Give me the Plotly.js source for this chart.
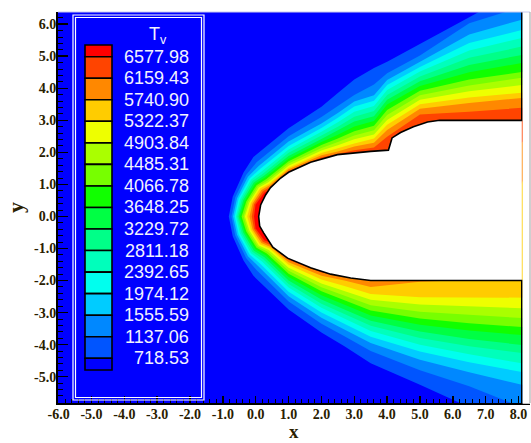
<!DOCTYPE html>
<html>
<head>
<meta charset="utf-8">
<script src="https://cdn.plot.ly/plotly-3.0.1.min.js"></script>
<style>html,body{margin:0;padding:0;background:#fff;}#chart{width:531px;height:443px;}</style>
</head>
<body>
<div id="chart"></div>
<script>
// ---- data ----
const levels = [718.53, 1137.06, 1555.59, 1974.12, 2392.65, 2811.18, 3229.72, 3648.25, 4066.78, 4485.31, 4903.84, 5322.37, 5740.90, 6159.43, 6577.98];
const bandColors = ['#0000FF','#0055FF','#0088FF','#00CCFF','#00FFEE','#00FFBB','#00FF88','#00FF44','#11FF00','#77FF00','#AAFF00','#EEFF00','#FFCC00','#FF8800','#FF4400','#FF0000'];
const xTickVals = [-6,-5,-4,-3,-2,-1,0,1,2,3,4,5,6,7,8];
const xTickText = ['-6.0','-5.0','-4.0','-3.0','-2.0','-1.0','0.0','1.0','2.0','3.0','4.0','5.0','6.0','7.0','8.0'];
const yTickVals = [-5,-4,-3,-2,-1,0,1,2,3,4,5,6];
const yTickText = ['-5.0','-4.0','-3.0','-2.0','-1.0','0.0','1.0','2.0','3.0','4.0','5.0','6.0'];

// body outline (domain edge at x=8.1)
const bodyX = [8.1, 8.1, 5.6, 5.23, 4.80, 4.41, 4.15, 4.04, 3.50, 2.49, 1.67, 1.00, 0.76, 0.45, 0.30, 0.15, 0.09, 0.12, 0.24, 0.52, 0.97, 1.67, 2.28, 2.89, 3.50, 8.1, 8.1];
const bodyY = [6.38, 3.00, 3.00, 2.95, 2.80, 2.62, 2.45, 2.07, 2.03, 1.93, 1.69, 1.38, 1.20, 0.90, 0.67, 0.36, 0.00, -0.30, -0.51, -0.96, -1.30, -1.60, -1.80, -1.92, -2.00, -2.00, -5.82];

// contour-line crossings, one value per level (718.53 ... 6577.98), null = level not reached
// vertical cuts x = const -> y values ; rays from (1,0) -> distance ; row y=0 -> x values
const upX81 = [7.10, 6.54, 6.14, 5.82, 5.57, 5.30, 5.04, 4.79, 4.51, 4.33, 4.10, 3.86, 3.70, 3.39, null];
const upX65 = [6.22, 6.03, 5.68, 5.41, 5.18, 4.95, 4.73, 4.50, 4.27, 4.09, 3.91, 3.71, 3.54, 3.27, null];
const upX50 = [5.38, 5.02, 4.82, 4.66, 4.52, 4.37, 4.22, 4.07, 3.92, 3.78, 3.64, 3.50, 3.36, 3.18, null];
const upX40 = [4.83, 4.47, 4.26, 4.10, 3.95, 3.79, 3.64, 3.49, 3.32, 3.17, 3.01, 2.86, 2.70, 2.49, null];
const upX36 = [4.63, 4.12, 3.78, 3.61, 3.45, 3.29, 3.13, 2.98, 2.83, 2.69, 2.56, 2.43, 2.30, 2.15, null];
const upX30 = [4.27, 3.79, 3.59, 3.43, 3.27, 3.11, 2.96, 2.81, 2.66, 2.53, 2.41, 2.28, 2.18, 2.07, null];
const upX25 = [3.85, 3.44, 3.23, 3.08, 2.94, 2.80, 2.68, 2.55, 2.43, 2.32, 2.22, 2.12, 2.03, 1.97, null];
const upX20 = [3.42, 3.10, 2.90, 2.76, 2.64, 2.53, 2.42, 2.32, 2.23, 2.14, 2.06, 1.98, 1.91, 1.85, null];
const upX10 = [2.75, 2.50, 2.34, 2.20, 2.09, 1.99, 1.89, 1.80, 1.72, 1.65, 1.58, 1.52, 1.47, 1.42, null];
const ray120 = [2.14, 1.95, 1.82, 1.72, 1.63, 1.55, 1.48, 1.41, 1.35, 1.29, 1.23, 1.18, 1.13, 1.08, 1.01];
const ray135 = [1.94, 1.83, 1.75, 1.68, 1.62, 1.56, 1.50, 1.44, 1.38, 1.33, 1.28, 1.23, 1.17, 1.11, 1.05];
const ray160 = [1.81, 1.73, 1.67, 1.62, 1.57, 1.52, 1.47, 1.42, 1.37, 1.32, 1.27, 1.22, 1.17, 1.12, 1.07];
const rowY0  = [-0.82, -0.74, -0.69, -0.64, -0.60, -0.56, -0.52, -0.48, -0.43, -0.37, -0.33, -0.26, -0.19, -0.12, -0.05];
const ray200 = [1.81, 1.73, 1.67, 1.62, 1.57, 1.52, 1.47, 1.42, 1.37, 1.32, 1.27, 1.22, 1.17, 1.12, 1.07];
const ray225 = [1.94, 1.83, 1.75, 1.68, 1.62, 1.56, 1.50, 1.44, 1.38, 1.33, 1.28, 1.23, 1.17, 1.11, 1.05];
const ray240 = [2.14, 1.94, 1.81, 1.71, 1.62, 1.54, 1.47, 1.40, 1.33, 1.27, 1.21, 1.15, 1.10, 1.05, 0.97];
const loX10 = [-2.90, -2.65, -2.49, -2.35, -2.22, -2.11, -2.00, -1.89, -1.79, -1.69, -1.60, -1.51, -1.43, -1.36, null];
const loX20 = [-3.62, -3.35, -3.16, -3.00, -2.85, -2.72, -2.59, -2.46, -2.33, -2.21, -2.09, -1.97, -1.85, -1.75, null];
const loX27 = [-4.05, -3.74, -3.52, -3.35, -3.19, -3.05, -2.90, -2.76, -2.62, -2.48, -2.33, -2.17, -2.00, -1.86, null];
const loX35 = [-4.58, -4.20, -3.95, -3.75, -3.57, -3.41, -3.25, -3.09, -2.93, -2.77, -2.60, -2.42, -2.20, null, null];
const loX50 = [-5.25, -4.80, -4.47, -4.21, -4.00, -3.79, -3.59, -3.38, -3.18, -2.97, -2.75, -2.52, -2.04, null, null];
const loX65 = [-5.95, -5.30, -4.86, -4.55, -4.30, -4.05, -3.82, -3.56, -3.33, -3.07, -2.80, -2.52, -1.98, null, null];
const loX81 = [-6.60, -5.95, -5.25, -4.85, -4.58, -4.26, -4.01, -3.70, -3.45, -3.17, -2.86, -2.54, null, null, null];

const cuts = [
  ['x', 8.1, upX81], ['x', 6.5, upX65], ['x', 5.0, upX50], ['x', 4.0, upX40], ['x', 3.6, upX36],
  ['x', 3.0, upX30], ['x', 2.5, upX25], ['x', 2.0, upX20], ['x', 1.0, upX10],
  ['r', 120, ray120], ['r', 135, ray135], ['r', 160, ray160], ['y', 0, rowY0],
  ['r', 200, ray200], ['r', 225, ray225], ['r', 240, ray240],
  ['x', 1.0, loX10], ['x', 2.0, loX20], ['x', 2.7, loX27], ['x', 3.5, loX35], ['x', 5.0, loX50], ['x', 6.5, loX65], ['x', 8.1, loX81]
];

// ---- build traces ----
const traces = [];
for (let k = 0; k < levels.length; k++) {
  const xs = [], ys = [];
  cuts.forEach(c => {
    const v = c[2][k];
    if (v === null) return;
    if (c[0] === 'x') { xs.push(c[1]); ys.push(v); }
    else if (c[0] === 'y') { xs.push(v); ys.push(c[1]); }
    else { const a = c[1] * Math.PI / 180; xs.push(1 + v * Math.cos(a)); ys.push(v * Math.sin(a)); }
  });
  if (xs[0] >= 8.09) { xs.unshift(9.5); ys.unshift(ys[0]); }
  if (xs[xs.length - 1] >= 8.09) { xs.push(9.5); ys.push(ys[ys.length - 1]); }
  traces.push({type: 'scatter', mode: 'lines', x: xs, y: ys, fill: 'toself', fillcolor: bandColors[k + 1],
    line: {width: 0, color: 'rgba(0,0,0,0)'}, hoverinfo: 'skip', showlegend: false});
}
traces.push({type: 'scatter', mode: 'lines', x: bodyX.slice(1, -1), y: bodyY.slice(1, -1), fill: 'toself', fillcolor: '#FFFFFF',
  line: {width: 0, color: 'rgba(0,0,0,0)'}, hoverinfo: 'skip', showlegend: false});
traces.push({type: 'scatter', mode: 'lines', x: bodyX, y: bodyY, line: {width: 1.6, color: '#000000'}, hoverinfo: 'skip', showlegend: false});

// ---- layout ----
const W = 531, H = 443, ML = 58, MR = 1, MT = 12, MB = 40;
const PW = W - ML - MR, PH = H - MT - MB;
const XR = [-6.02, 8.35], YR = [-5.82, 6.38];
const px = p => (p - ML) / PW;           // pixel -> paper x
const py = p => (H - MB - p) / PH;       // pixel -> paper y
const dx = v => (v - XR[0]) / (XR[1] - XR[0]);  // data x -> paper x

const shapes = [
  {type: 'rect', xref: 'paper', yref: 'paper', x0: dx(8.125), x1: 1.004, y0: -0.002, y1: 1.002, fillcolor: '#FFFFFF', line: {width: 0}, layer: 'above'},
  {type: 'line', xref: 'paper', yref: 'paper', x0: 0, x1: 1, y0: 1, y1: 1, line: {color: '#C8C8F0', width: 1}, layer: 'above'},
  {type: 'line', xref: 'paper', yref: 'paper', x0: 1, x1: 1, y0: 0, y1: 1, line: {color: '#A0A0A0', width: 1}, layer: 'above'},
  {type: 'rect', xref: 'paper', yref: 'paper', x0: px(73), x1: px(204), y0: py(400), y1: py(15), line: {color: '#FFFFFF', width: 1.2}, layer: 'above'},
  {type: 'rect', xref: 'paper', yref: 'paper', x0: px(75.5), x1: px(201.5), y0: py(397.5), y1: py(17.5), line: {color: '#FFFFFF', width: 1.2}, layer: 'above'}
];
const annotations = [];
const b0 = 56.7, step = 21.54;
for (let i = 0; i < 16; i++) {
  const top = i === 0 ? 45 : b0 + step * (i - 1);
  const bot = i === 15 ? 370 : b0 + step * i;
  shapes.push({type: 'rect', xref: 'paper', yref: 'paper', x0: px(85), x1: px(112), y0: py(bot), y1: py(top),
    fillcolor: bandColors[15 - i], line: {color: '#000000', width: 1.6}, layer: 'above'});
}
for (let i = 0; i < levels.length; i++) {
  annotations.push({xref: 'paper', yref: 'paper', x: px(191), y: py(b0 + step * i), xanchor: 'right', yanchor: 'middle',
    text: levels[levels.length - 1 - i].toFixed(2), showarrow: false,
    font: {family: 'Liberation Sans, Arial, sans-serif', size: 18, color: '#F2F2FF'}});
}
annotations.push({xref: 'paper', yref: 'paper', x: px(158), y: py(36), xanchor: 'center', yanchor: 'middle',
  text: 'T<sub>v</sub>', showarrow: false, font: {family: 'Liberation Sans, Arial, sans-serif', size: 18, color: '#F2F2FF'}});
// x axis title
annotations.push({xref: 'paper', yref: 'paper', x: px(294), y: py(443), xanchor: 'center', yanchor: 'bottom', borderpad: 0,
  text: '<b>x</b>', showarrow: false, font: {family: 'Liberation Serif, Times New Roman, serif', size: 19, color: '#2A2000'}});

const tickFont = {family: 'Liberation Serif, Times New Roman, serif', size: 14, color: '#2A2000', weight: 'bold'};
const layout = {
  width: W, height: H, margin: {l: ML, r: MR, t: MT, b: MB, pad: 0},
  paper_bgcolor: '#FFFFFF', plot_bgcolor: bandColors[0], showlegend: false,
  xaxis: {range: XR, tickmode: 'array', tickvals: xTickVals, ticktext: xTickText,
    ticks: 'inside', ticklen: 7, tickwidth: 1.5, tickcolor: '#000', showline: true, linewidth: 2, linecolor: '#000',
    showgrid: false, zeroline: false, tickfont: tickFont, automargin: false, ticklabelstandoff: -3,
    minor: {tickmode: 'linear', tick0: -6, dtick: 0.2, ticks: 'inside', ticklen: 4, tickwidth: 1, tickcolor: '#000', showgrid: false}},
  yaxis: {range: YR, tickmode: 'array', tickvals: yTickVals, ticktext: yTickText,
    ticks: 'inside', ticklen: 10, tickwidth: 1.5, tickcolor: '#000', showline: true, linewidth: 2, linecolor: '#000',
    showgrid: false, zeroline: false, tickfont: tickFont, automargin: false, ticklabelstandoff: -3,
    minor: {tickmode: 'linear', tick0: -6, dtick: 0.2, ticks: 'inside', ticklen: 5, tickwidth: 1, tickcolor: '#000', showgrid: false},
    title: {text: '<b>y</b>', font: {family: 'Liberation Serif, Times New Roman, serif', size: 22, color: '#2A2000'}, standoff: 4}},
  shapes: shapes, annotations: annotations
};
Plotly.newPlot('chart', traces, layout, {staticPlot: true, displayModeBar: false});
</script>
</body>
</html>
